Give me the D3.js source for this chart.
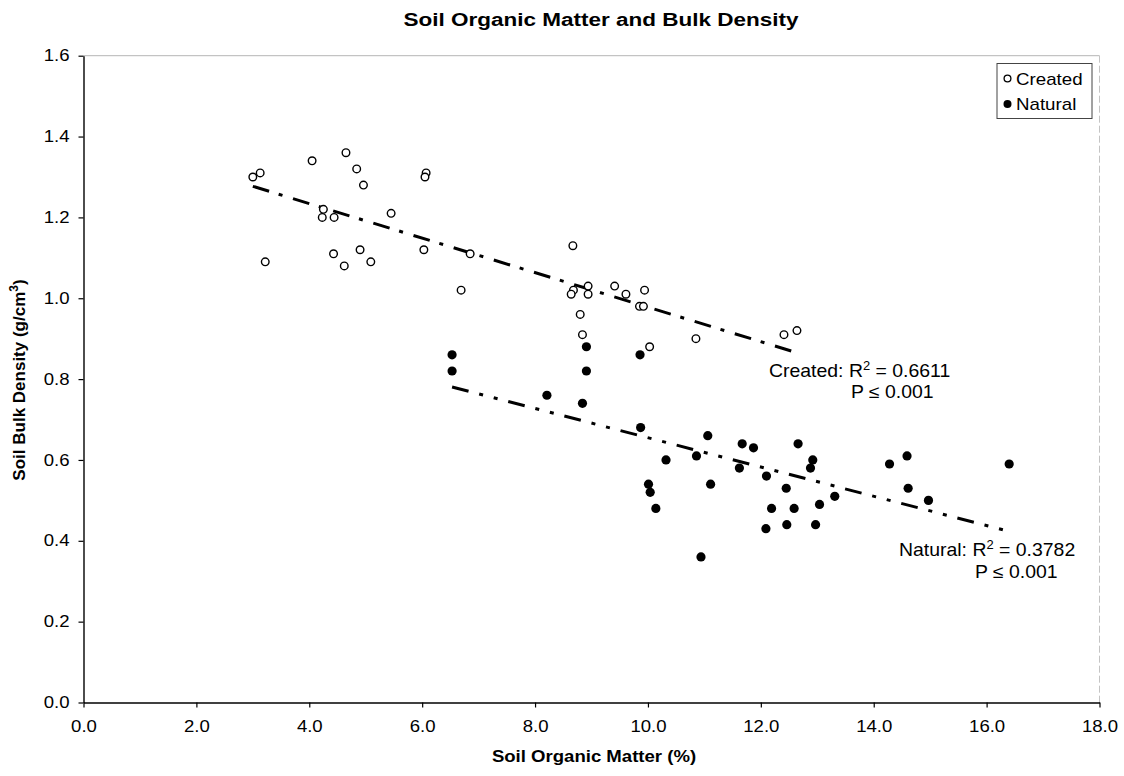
<!DOCTYPE html>
<html>
<head>
<meta charset="utf-8">
<script src="https://cdn.jsdelivr.net/npm/d3@7"></script>
<style>
  html, body { margin: 0; padding: 0; background: #fff; }
  svg { display: block; font-family: "Liberation Sans", Arial, sans-serif; }
</style>
</head>
<body>
<svg id="chart" width="1124" height="776"></svg>
<script>
// Soil organic matter (%) vs. bulk density (g/cm3)
const createdSOM = [3.00, 3.13, 3.22, 4.05, 4.25, 4.23, 4.44, 4.65, 4.84, 4.96, 5.45, 6.07, 6.05,
  6.03, 6.85, 6.69, 4.43, 4.90, 4.62, 5.09, 8.67, 8.68, 8.64, 8.94, 8.94, 9.41, 9.61, 9.94,
  9.85, 9.92, 8.80, 8.84, 10.03, 10.85, 12.41, 12.64];
const createdBD = [1.30, 1.31, 1.09, 1.34, 1.22, 1.20, 1.20, 1.36, 1.32, 1.28, 1.21, 1.31, 1.30,
  1.12, 1.11, 1.02, 1.11, 1.12, 1.08, 1.09, 1.13, 1.02, 1.01, 1.03, 1.01, 1.03, 1.01, 1.02,
  0.98, 0.98, 0.96, 0.91, 0.88, 0.90, 0.91, 0.92];

const naturalSOM = [6.53, 6.53, 8.21, 8.84, 8.91, 8.91, 9.86, 9.87, 10.32, 10.86, 11.06, 11.67,
  11.87, 11.62, 12.10, 10.01, 10.04, 10.14, 11.11, 12.19, 12.09, 10.94, 12.66, 12.92, 12.88,
  12.45, 12.59, 13.04, 13.31, 12.46, 12.97, 14.28, 14.59, 14.61, 14.97, 16.40];
const naturalBD = [0.86, 0.82, 0.76, 0.74, 0.88, 0.82, 0.86, 0.68, 0.60, 0.61, 0.66, 0.64,
  0.63, 0.58, 0.56, 0.54, 0.52, 0.48, 0.54, 0.48, 0.43, 0.36, 0.64, 0.60, 0.58,
  0.53, 0.48, 0.49, 0.51, 0.44, 0.44, 0.59, 0.61, 0.53, 0.50, 0.59];

// Linear trend lines: [intercept, slope]
const createdTrend = [1.405, -0.0427];
const naturalTrend = [1.017, -0.0362];

const xTicks = [0, 2, 4, 6, 8, 10, 12, 14, 16, 18];
const yTicks = [0, 0.2, 0.4, 0.6, 0.8, 1.0, 1.2, 1.4, 1.6];

const svg = d3.select("#chart");
const plotL = 83.5, plotR = 1099.5, plotT = 55.7, plotB = 702.5;

const x = d3.scaleLinear().domain([0, 18]).range([plotL, plotR]);
const y = d3.scaleLinear().domain([0, 1.6]).range([plotB, plotT]);

// Widen glyphs horizontally by a factor (the chart's lettering is slightly expanded)
function widen(sel, k) {
  sel.each(function () {
    const w = this.getComputedTextLength();
    d3.select(this).attr("textLength", w * k).attr("lengthAdjust", "spacingAndGlyphs");
  });
}

// Plot frame (light top / right edges)
svg.append("line").attr("x1", plotL).attr("x2", plotR).attr("y1", plotT).attr("y2", plotT)
  .attr("stroke", "#b5b5b5").attr("stroke-width", 1);
svg.append("line").attr("x1", plotR).attr("x2", plotR).attr("y1", plotT).attr("y2", plotB)
  .attr("stroke", "#c4c4c4").attr("stroke-width", 1).attr("stroke-dasharray", "7,3");

// Axes
const xAxis = d3.axisBottom(x).tickValues(xTicks).tickFormat(d3.format(".1f"))
  .tickSizeInner(5).tickSizeOuter(0).tickPadding(13);
const yAxis = d3.axisLeft(y).tickValues(yTicks).tickFormat(d3.format(".1f"))
  .tickSizeInner(5).tickSizeOuter(0).tickPadding(9);

const gx = svg.append("g").attr("transform", `translate(0,${plotB})`).call(xAxis);
const gy = svg.append("g").attr("transform", `translate(${plotL},0)`).call(yAxis);
[gx, gy].forEach(g => {
  g.select(".domain").attr("stroke", "#000").attr("stroke-width", 1.4);
  g.selectAll(".tick line").attr("stroke", "#000").attr("stroke-width", 1.2);
  g.selectAll(".tick text").attr("fill", "#000").attr("font-size", 16)
    .attr("font-family", "Liberation Sans, Arial, sans-serif");
  widen(g.selectAll(".tick text"), 1.16);
});

// Trend lines across each series' range
function trend(coef, xs, dash) {
  const [lo, hi] = d3.extent(xs);
  svg.append("line")
    .attr("x1", x(lo)).attr("y1", y(coef[0] + coef[1] * lo))
    .attr("x2", x(hi)).attr("y2", y(coef[0] + coef[1] * hi))
    .attr("stroke", "#000").attr("stroke-width", 3)
    .attr("stroke-dasharray", dash);
}
trend(createdTrend, createdSOM, "17,10,4,11");
trend(naturalTrend, naturalSOM, "17,11,4,11,4,11");

// Points
svg.append("g").selectAll("circle").data(d3.range(createdSOM.length)).join("circle")
  .attr("cx", i => x(createdSOM[i])).attr("cy", i => y(createdBD[i]))
  .attr("r", 3.8).attr("fill", "#fff").attr("stroke", "#000").attr("stroke-width", 1.4);
svg.append("g").selectAll("circle").data(d3.range(naturalSOM.length)).join("circle")
  .attr("cx", i => x(naturalSOM[i])).attr("cy", i => y(naturalBD[i]))
  .attr("r", 4.6).attr("fill", "#000");

// Title and axis titles
const title = svg.append("text").attr("x", 601).attr("y", 26).attr("text-anchor", "middle")
  .attr("font-weight", "bold").attr("font-size", 18).text("Soil Organic Matter and Bulk Density");
widen(title, 1.25);
const xTitle = svg.append("text").attr("x", 594).attr("y", 762).attr("text-anchor", "middle")
  .attr("font-weight", "bold").attr("font-size", 16).text("Soil Organic Matter (%)");
widen(xTitle, 1.16);
const yt = svg.append("text").attr("transform", "translate(25,380) rotate(-90)")
  .attr("text-anchor", "middle").attr("font-weight", "bold").attr("font-size", 17);
yt.append("tspan").text("Soil Bulk Density (g/cm");
yt.append("tspan").attr("font-size", 12).attr("dy", -7).text("3");
yt.append("tspan").attr("dy", 7).text(")");

// Regression annotations
function annot(label, r2, px, py, px2, py2) {
  const g1 = svg.append("g").attr("transform", `translate(${px},${py}) scale(1.08,1)`);
  const t = g1.append("text").attr("font-size", 18);
  t.append("tspan").text(label + ": R");
  t.append("tspan").attr("font-size", 12).attr("dy", -7).text("2");
  t.append("tspan").attr("dy", 7).text(" = " + r2);
  svg.append("g").attr("transform", `translate(${px2},${py2}) scale(1.08,1)`)
    .append("text").attr("font-size", 18).text("P \u2264 0.001");
}
annot("Created", "0.6611", 769, 377, 851, 398);
annot("Natural", "0.3782", 899, 556, 975, 578);

// Legend
const lg = svg.append("g");
lg.append("rect").attr("x", 997).attr("y", 63.5).attr("width", 95).attr("height", 55)
  .attr("fill", "#fff").attr("stroke", "#444").attr("stroke-width", 1);
lg.append("circle").attr("cx", 1007.5).attr("cy", 78.5).attr("r", 3.4)
  .attr("fill", "#fff").attr("stroke", "#000").attr("stroke-width", 1.3);
lg.append("circle").attr("cx", 1007.5).attr("cy", 104).attr("r", 4).attr("fill", "#000");
widen(lg.append("text").attr("x", 1016).attr("y", 84.5).attr("font-size", 17).text("Created"), 1.1);
widen(lg.append("text").attr("x", 1016).attr("y", 110).attr("font-size", 17).text("Natural"), 1.1);
</script>
</body>
</html>
